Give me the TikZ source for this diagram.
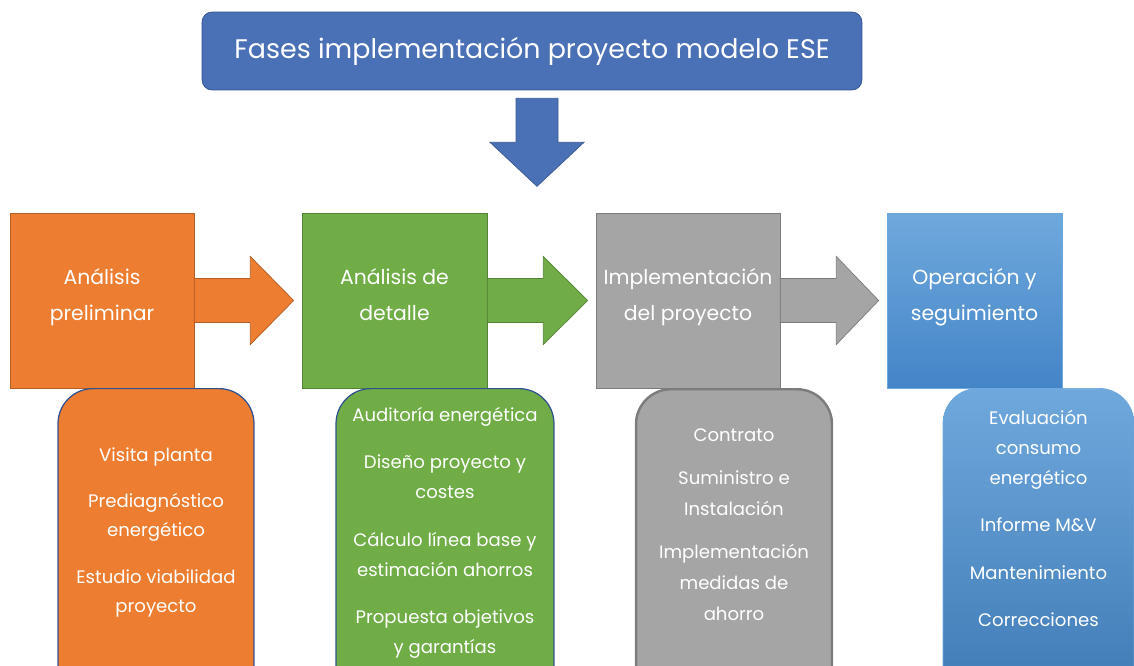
\documentclass[tikz,border=0pt]{standalone}
\usepackage{fontspec}
\setmainfont{Poppins}
\usetikzlibrary{positioning,calc,shapes,arrows.meta}
\usepackage{xcolor}
\definecolor{titleblue}{HTML}{4A70B5}
\definecolor{orangeph}{HTML}{ED7D31}
\definecolor{greenph}{HTML}{70AD47}
\definecolor{grayph}{HTML}{A5A5A5}
\definecolor{bluetop}{HTML}{6FA8DC}
\definecolor{bluebot}{HTML}{4485C8}
\definecolor{edgeblue}{HTML}{2F528F}

% block arrow from the east side of one phase to the west side of the next
\newcommand{\blockarrow}[3]{%
  \draw[#3] ($(#1.east)+(0,-22)$) -- ($(#1.east)+(56,-22)$) -- ($(#1.east)+(56,-44)$)
    -- ($(#2.west)+(-8,0)$) -- ($(#1.east)+(56,44)$) -- ($(#1.east)+(56,22)$)
    -- ($(#1.east)+(0,22)$) -- cycle;}

\begin{document}
\begin{tikzpicture}[
    x=0.02cm, y=-0.02cm, % 1 unit = 1 px of the layout
    every node/.style={text=white, align=center},
    titlebox/.style={draw=edgeblue, fill=titleblue, rounded corners=0.2cm, minimum width=13.2cm, minimum height=1.56cm, font=\fontsize{15.3}{18}\selectfont},
    phase/.style={draw=#1!75!black, fill=#1, minimum height=3.5cm},
    phasetxt/.style={font=\fontsize{11.6}{20.5}\selectfont, yshift=2.8pt}, % text a little above centre
    detail/.style={anchor=north, rounded corners=0.7cm, minimum height=6.6cm},
    items/.style={anchor=north, inner sep=0pt, font=\fontsize{10.3}{17}\selectfont},
    harrow/.style={draw=#1!75!black, fill=#1},
]
\clip (0,0) rectangle (1134,666);

% title and down arrow
\node[titlebox] (title) at (532,51) {Fases implementación proyecto modelo ESE};
\coordinate (dn) at ($(title.south)+(5,8)$);
\draw[draw=titleblue!80!black, fill=titleblue] ($(dn)+(-21,0)$) -- ($(dn)+(21,0)$) -- ($(dn)+(21,44)$)
    -- ($(dn)+(47,44)$) -- ($(dn)+(0,88)$) -- ($(dn)+(-47,44)$) -- ($(dn)+(-21,44)$) -- cycle;

% phases
\node[phase=orangeph, minimum width=3.68cm, label={[phasetxt]center:\strut Análisis\\\strut preliminar}] (pre) at (102,300.5) {};
\node[phase=greenph, minimum width=3.7cm, label={[phasetxt]center:\strut Análisis de\\\strut detalle}] (det) at (394.5,300.5) {};
\node[phase=grayph, minimum width=3.68cm, label={[phasetxt]center:\strut Implementación\\\strut del proyecto}] (imp) at (688,300.5) {};
\node[draw=bluetop, top color=bluetop, bottom color=bluebot, minimum width=3.5cm, minimum height=3.5cm,
    label={[phasetxt]center:\strut Operación y\\\strut seguimiento}] (ope) at (974.5,300.5) {};

\blockarrow{pre}{det}{harrow=orangeph}
\blockarrow{det}{imp}{harrow=greenph}
\blockarrow{imp}{ope}{harrow=grayph}

% detail boxes
\node[detail, draw=edgeblue, line width=0.7pt, fill=orangeph, minimum width=3.92cm] (preD) at (156,388) {};
\node[detail, draw=edgeblue, line width=0.7pt, fill=greenph, minimum width=4.36cm] (detD) at (445,388) {};
\node[detail, draw=grayph!75!black, line width=1.4pt, fill=grayph, minimum width=3.92cm] (impD) at (734,388) {};
\node[detail, draw=bluetop, top color=bluetop, bottom color=bluebot!90!black, minimum width=3.82cm] (opeD) at (1038.5,388) {};

\node[items, below=1.18cm of preD.north, font=\fontsize{10.3}{16.5}\selectfont] (preT) {Visita planta\\[10pt]Prediagnóstico\\energético\\[10pt]Estudio viabilidad\\proyecto};
\node[items, below=0.38cm of detD.north] (detT) {Auditoría energética\\[10pt]Diseño proyecto y\\costes\\[10pt]Cálculo línea base y\\estimación ahorros\\[10pt]Propuesta objetivos\\y garantías};
\node[items, below=0.8cm of impD.north, font=\fontsize{10.3}{17.6}\selectfont] (impT) {Contrato\\[7pt]Suministro e\\Instalación\\[7pt]Implementación\\medidas de\\ahorro};
\node[items, below=0.44cm of opeD.north] (opeT) {Evaluación\\consumo\\energético\\[10pt]Informe M\&V\\[10pt]Mantenimiento\\[10pt]Correcciones};
\end{tikzpicture}
\end{document}
